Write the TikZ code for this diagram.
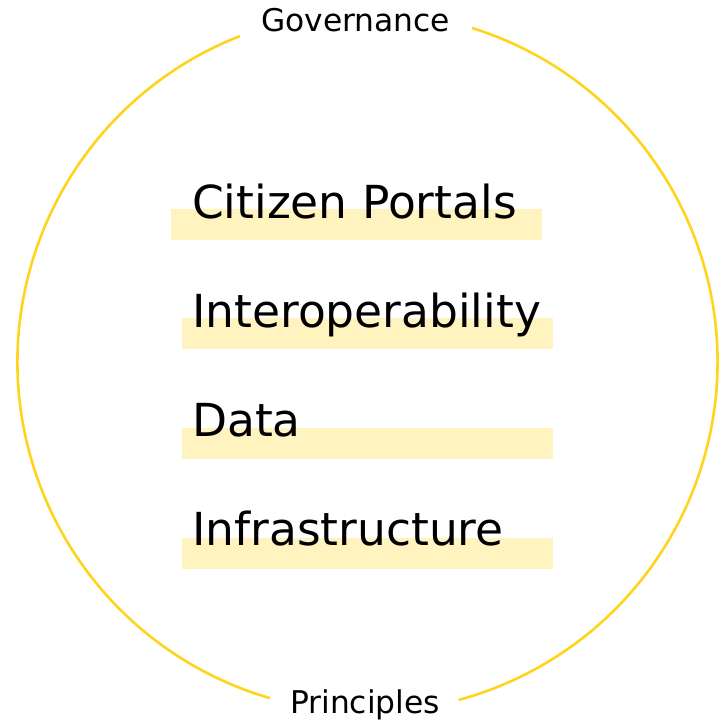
\documentclass[tikz,border=0pt]{standalone}
\usepackage{fontspec}
\setmainfont{DejaVu Sans}
\definecolor{ring}{HTML}{FFD41C}
\definecolor{barfill}{HTML}{FFF3C0}
\begin{document}
\begin{tikzpicture}[x=1pt,y=1pt,
  bar/.style={fill=barfill,draw=none,inner sep=0,minimum width=371pt,minimum height=31pt,anchor=north west},
  layer/.style={inner sep=0,anchor=base west,font=\fontsize{45.5}{50}\selectfont},
  edge/.style={inner sep=0,anchor=base west,font=\fontsize{31.3}{34}\selectfont},
  ringline/.style={draw=ring,line width=2.6pt}]
\useasboundingbox (0,0) rectangle (723,721);
\coordinate (c) at (367.5,359);
\draw[ringline] ([shift={(72.6:350)}]c) arc[start angle=72.6,end angle=-74.9,radius=350];
\draw[ringline] ([shift={(111.4:350)}]c) arc[start angle=111.4,end angle=253.8,radius=350];
\node[bar] (b1) at (171,512) {};
\node[bar] (b2) at (182,403) {};
\node[bar] (b3) at (182,293) {};
\node[bar] (b4) at (182,183) {};
\node[layer] (t1) at (192,502) {Citizen Portals};
\node[layer] (t2) at (192,393) {Interoperability};
\node[layer] (t3) at (192,284) {Data};
\node[layer] (t4) at (192,176) {Infrastructure};
\node[edge] (gov) at (261,689) {Governance};
\node[edge] (pri) at (290,8) {Principles};
\end{tikzpicture}
\end{document}
